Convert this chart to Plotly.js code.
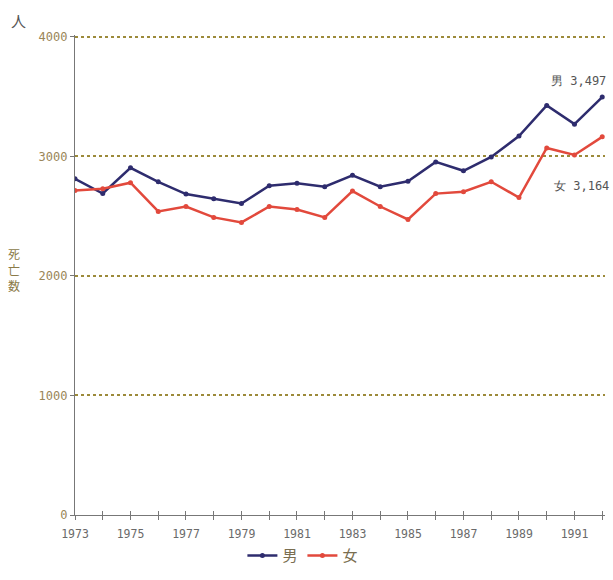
<!DOCTYPE html>
<html>
<head>
<meta charset="utf-8">
<script src="https://cdn.plot.ly/plotly-3.0.1.min.js"></script>
<style>html,body{margin:0;padding:0;background:#fff;}#chart{width:613px;height:580px;}</style>
</head>
<body>
<div id="chart"></div>
<script>
const years = [1973,1974,1975,1976,1977,1978,1979,1980,1981,1982,1983,1984,1985,1986,1987,1988,1989,1990,1991,1992];
const male = [2813,2690,2905,2788,2685,2647,2606,2755,2775,2747,2842,2747,2792,2954,2880,2996,3170,3427,3270,3497];
const female = [2714,2730,2780,2540,2581,2490,2448,2581,2556,2490,2710,2581,2473,2689,2705,2788,2656,3071,3012,3164];
const seriesNames = ['男','女'];
const xTickVals = years;
const xTickText = years.map(y => (y % 2 === 1 && y < 1992) ? String(y) : '');
const yTickVals = [0,1000,2000,3000,4000];
const yTickText = ['0','1000','2000','3000','4000'];
const yTitleChars = ['死','亡','数'];

const mono = 'DejaVu Sans Mono, Liberation Mono, monospace';
const cjk = 'Noto Sans CJK JP, Noto Sans CJK SC, sans-serif';

const traces = [
  {x: years, y: male, name: seriesNames[0], type: 'scatter', mode: 'lines+markers',
   line: {color: '#2e2c6e', width: 2.5}, marker: {color: '#2e2c6e', size: 5}},
  {x: years, y: female, name: seriesNames[1], type: 'scatter', mode: 'lines+markers',
   line: {color: '#e2493c', width: 2.5}, marker: {color: '#e2493c', size: 5}},
  {x: years, y: male, xaxis: 'x2', yaxis: 'y', type: 'scatter', mode: 'none', showlegend: false, hoverinfo: 'skip'}
];

const annotations = [
  {xref: 'paper', yref: 'paper', x: -0.107, y: 1.005, xanchor: 'center', yanchor: 'bottom',
   text: '人', showarrow: false, font: {family: cjk, size: 15, color: '#555'}},
  {x: years[years.length-1], y: male[male.length-1], xanchor: 'right', yanchor: 'middle',
   xshift: 6, yshift: 16, text: '男 3,497', showarrow: false,
   font: {family: mono, size: 12, color: '#555'}},
  {x: years[years.length-1], y: female[female.length-1], xanchor: 'right', yanchor: 'middle',
   xshift: 9, yshift: -49, text: '女 3,164', showarrow: false,
   font: {family: mono, size: 12, color: '#555'}}
];
yTitleChars.forEach((c, i) => {
  annotations.push({xref: 'paper', yref: 'paper', x: -0.115, y: 0.545 - i * 0.033,
    xanchor: 'center', yanchor: 'middle', text: c, showarrow: false,
    font: {family: cjk, size: 12, color: '#8a7a48'}});
});

const layout = {
  width: 613, height: 580,
  margin: {l: 75, r: 8, t: 35, b: 61},
  paper_bgcolor: '#ffffff', plot_bgcolor: '#ffffff',
  showlegend: true,
  legend: {orientation: 'h', x: 0.43, xanchor: 'center', y: -0.085, yanchor: 'middle',
           font: {family: cjk, size: 15, color: '#7a6e50'}, itemwidth: 30, tracegroupgap: 0,
           bgcolor: 'rgba(0,0,0,0)'},
  xaxis: {range: [1973, 1992.1], tickvals: xTickVals, ticktext: xTickText,
          ticks: 'outside', ticklen: 4, tickcolor: '#777', tickwidth: 1, ticklabelstandoff: 4,
          showline: true, linecolor: '#777', linewidth: 1.2, showgrid: false, zeroline: false,
          tickfont: {family: mono, size: 11.5, color: '#6a6a6a'}},
  xaxis2: {overlaying: 'x', range: [1973, 1992.1], tickvals: xTickVals, ticktext: years.map(() => ''),
           ticks: 'inside', ticklen: 4, tickcolor: '#777', tickwidth: 1, side: 'bottom',
           showline: false, showgrid: false, zeroline: false, showticklabels: false},
  yaxis: {range: [0, 4016], tickvals: yTickVals, ticktext: yTickText,
          ticks: 'outside', ticklen: 4, tickcolor: '#777',
          showline: true, linecolor: '#777', linewidth: 1.2, zeroline: false,
          showgrid: true, gridcolor: '#9c8a3a', griddash: 'dot', gridwidth: 2,
          tickfont: {family: mono, size: 12, color: '#9a8658'}},
  annotations: annotations
};

Plotly.newPlot('chart', traces, layout, {displayModeBar: false, staticPlot: true});
</script>
</body>
</html>
